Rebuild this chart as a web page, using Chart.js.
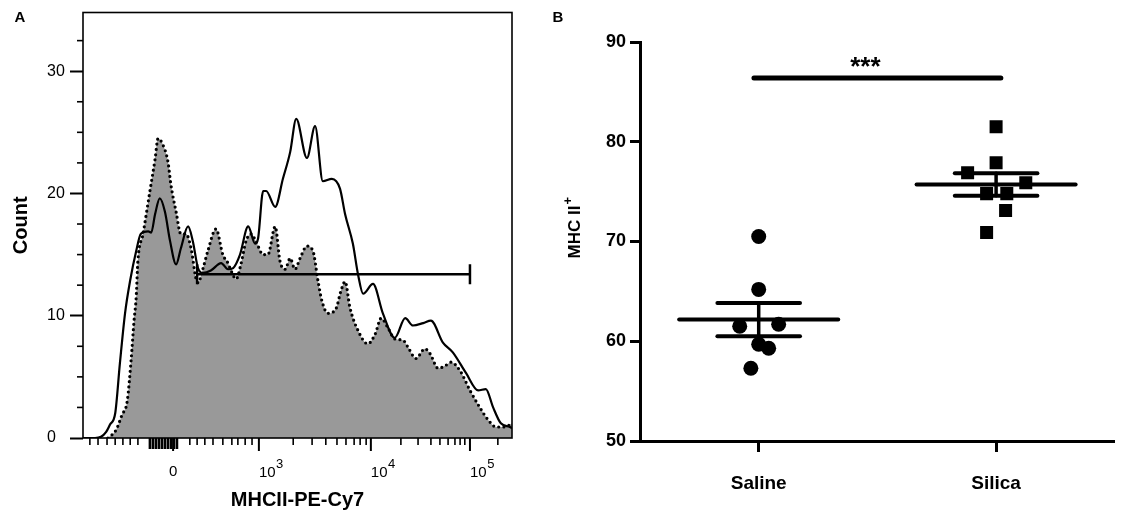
<!DOCTYPE html>
<html><head><meta charset="utf-8">
<script src="https://cdn.jsdelivr.net/npm/chart.js@4.4.1/dist/chart.umd.min.js"></script>
<style>
html,body{margin:0;padding:0;background:#fff;width:1124px;height:510px;overflow:hidden}
#ca{position:absolute;left:0;top:0}
#cb{position:absolute;left:540px;top:0}
</style></head><body>
<canvas id="ca" width="540" height="510"></canvas>
<canvas id="cb" width="584" height="510"></canvas>
<script>
// ================= Panel A : histogram on a biexponential display axis (channel units 0..1000)
const A_X_TICK_VALUES = [210, 410, 671, 902];
const A_X_TICK_LABELS = ['0', '10^3', '10^4', '10^5'];
const A_X_MINOR_TICKS = [16, 35, 56, 75, 93, 110, 128, 249, 266, 284, 303, 326, 347, 361, 378, 394,
  490, 534, 566, 592, 613, 632, 646, 660, 741, 781, 811, 832, 851, 867, 879, 890, 967];
const A_X_ZERO_TICKS = [156, 163, 170, 177, 184, 191, 198, 205, 212, 219];
const A_Y_TICKS = [0, 10, 20, 30];
const A_Y_MINOR_TICKS = [2.5, 5, 7.5, 12.5, 15, 17.5, 22.5, 25, 27.5, 32.5];
const A_X_TITLE = 'MHCII-PE-Cy7';
const A_Y_TITLE = 'Count';

// solid (unfilled) histogram
const SOLID_X = [0,28,42,54,63,75,86,98,110,124,135,152,159,168,179,191,203,217,228,245,
  256,268,280,298,322,338,350,366,385,401,408,420,427,448,466,483,497,522,541,559,
  580,599,611,629,641,653,676,699,727,751,769,793,811,839,862,893,921,939,956,974,995,1000];
const SOLID_Y = [0,0,0.1,0.5,1.1,2.0,6.1,10.2,12.9,15.3,16.7,16.9,16.8,18.3,19.6,18.5,16.1,14.2,15.5,17.3,
  16.1,13.9,13.5,13.7,14.3,13.8,13.9,15.0,17.3,15.9,16.3,20.2,20.2,18.9,21.2,23.4,26.1,22.9,25.5,21.0,
  21.2,20.4,18.3,15.9,13.4,11.8,12.6,10.2,8.2,9.8,9.2,9.4,9.6,7.8,7.0,5.3,3.9,4.0,2.5,1.2,0.9,0.8];
// dotted, grey-filled histogram
const DOTTED_X = [58,77,91,103,112,119,124,128,140,156,168,175,186,198,205,217,228,240,252,263,
  268,280,291,310,326,338,345,357,368,380,392,403,420,431,448,459,471,483,494,506,
  522,536,548,557,571,590,601,611,622,641,664,681,695,711,727,746,758,776,797,809,
  828,844,858,879,902,925,944,963,984,1000];
const DOTTED_Y = [0,0.65,1.9,3.0,6.3,9.6,11.5,14.5,16.7,20.2,22.8,24.5,24.0,22.6,20.7,18.5,16.7,16.7,15.5,13.1,
  12.7,13.9,15.3,17.1,15.0,14.3,13.7,13.0,14.2,16.1,16.7,16.1,15.0,15.0,17.3,14.5,13.8,14.7,13.8,14.7,
  15.7,15.3,12.8,11.2,10.2,10.6,12.0,12.8,10.7,8.8,7.7,8.5,9.8,9.0,8.1,8.0,7.4,6.5,7.3,6.9,
  5.7,5.9,6.2,5.5,3.9,2.5,1.5,0.9,0.9,1.2];
// gate
const GATE_X = [266, 902];
const GATE_Y = 13.4;

// ================= Panel B : scatter with mean ± SEM
const GROUPS = ['Saline', 'Silica'];
const SALINE = [70.5, 65.2, 61.5, 61.7, 59.7, 59.3, 57.3];
const SALINE_JITTER = [0, 0, -0.08, 0.084, 0, 0.042, -0.033];
const SILICA = [81.5, 77.9, 76.9, 75.9, 74.8, 74.8, 73.1, 70.9];
const SILICA_JITTER = [0, 0, -0.12, 0.125, -0.04, 0.045, 0.04, -0.04];
const B_Y_TICKS = [50, 60, 70, 80, 90];
const SIG_X = [0.48, 1.52];
const SIG_Y = 86.4;
const SIG_LABEL = '***';
const B_Y_TITLE = 'MHC II';
const B_Y_TITLE_SUP = '+';

const FONT = "'Liberation Sans', Arial, Helvetica, sans-serif";
Chart.defaults.font.family = FONT;
Chart.defaults.color = '#000';

const zip = (xs, ys) => xs.map((x, i) => ({x, y: ys[i]}));

function hline(ctx, x1, y1, x2, y2, w) {
  ctx.lineWidth = w; ctx.beginPath(); ctx.moveTo(x1, y1); ctx.lineTo(x2, y2); ctx.stroke();
}
function noPad(s) { s.paddingTop = 0; s.paddingBottom = 0; s.paddingLeft = 0; s.paddingRight = 0; }

const panelA = {
  id: 'panelA',
  afterDraw(chart) {
    const {ctx, chartArea: ca, scales: {x, y}} = chart;
    ctx.save();
    ctx.strokeStyle = '#000'; ctx.fillStyle = '#000';
    ctx.lineWidth = 1.6;
    ctx.strokeRect(ca.left, ca.top, ca.right - ca.left, ca.bottom - ca.top);
    A_Y_MINOR_TICKS.forEach(v => { const py = y.getPixelForValue(v); hline(ctx, ca.left - 6, py, ca.left, py, 1.6); });
    A_X_MINOR_TICKS.forEach(v => { const px = x.getPixelForValue(v); hline(ctx, px, ca.bottom, px, ca.bottom + 7, 1.6); });
    A_X_ZERO_TICKS.forEach(v => { const px = x.getPixelForValue(v); hline(ctx, px, ca.bottom, px, ca.bottom + 11, 2.6); });
    A_X_TICK_VALUES.forEach(v => { const px = x.getPixelForValue(v); hline(ctx, px, ca.bottom, px, ca.bottom + 13, 2); });
    // tick labels
    ctx.textBaseline = 'middle';
    A_X_TICK_VALUES.forEach((v, i) => {
      const px = x.getPixelForValue(v);
      const parts = A_X_TICK_LABELS[i].split('^');
      if (parts.length === 1) {
        ctx.font = '15px ' + FONT; ctx.textAlign = 'center';
        ctx.fillText(parts[0], px, ca.bottom + 34);
      } else {
        ctx.font = '15px ' + FONT; ctx.textAlign = 'left';
        ctx.fillText(parts[0], px, ca.bottom + 35);
        const w = ctx.measureText(parts[0]).width;
        ctx.font = '13px ' + FONT;
        ctx.fillText(parts[1], px + w + 0.5, ca.bottom + 26);
      }
    });
    // y title
    ctx.save();
    ctx.translate(21, (ca.top + ca.bottom) / 2);
    ctx.rotate(-Math.PI / 2);
    ctx.font = 'bold 20px ' + FONT; ctx.textAlign = 'center';
    ctx.fillText(A_Y_TITLE, 0, 0);
    ctx.restore();
    // panel letter
    ctx.font = 'bold 15px ' + FONT; ctx.textAlign = 'center';
    ctx.fillText('A', 20, 18);
    ctx.restore();
  }
};

new Chart(document.getElementById('ca'), {
  type: 'line',
  data: {
    datasets: [
      { label: 'gate', data: GATE_X.map(v => ({x: v, y: GATE_Y})), borderColor: '#000', borderWidth: 2.5,
        pointStyle: 'line', pointRotation: 90, pointRadius: 10, pointBorderWidth: 2.5,
        pointBorderColor: '#000', pointBackgroundColor: '#000', order: 0 },
      { label: 'Silica', data: zip(SOLID_X, SOLID_Y), borderColor: '#000', borderWidth: 2.2,
        pointRadius: 0, fill: false, cubicInterpolationMode: 'monotone', order: 1 },
      { label: 'Saline', data: zip(DOTTED_X, DOTTED_Y), borderColor: '#000', borderWidth: 3.2,
        borderDash: [0, 5.2], borderCapStyle: 'round', backgroundColor: '#999999', fill: 'origin',
        pointRadius: 0, cubicInterpolationMode: 'monotone', order: 2 }
    ]
  },
  options: {
    responsive: false, animation: false,
    layout: { padding: { left: 47, top: 10, right: 28, bottom: 0 } },
    plugins: { legend: { display: false }, tooltip: { enabled: false } },
    scales: {
      x: { type: 'linear', min: 0, max: 1000,
        grid: { display: false }, border: { display: false }, ticks: { display: false },
        title: { display: true, text: A_X_TITLE, font: { size: 20, weight: 'bold' }, padding: { top: 0, bottom: -2 } },
        afterFit(s) { s.height = 72; noPad(s); } },
      y: { type: 'linear', min: 0, max: 34.8,
        afterBuildTicks(s) { s.ticks = A_Y_TICKS.map(v => ({value: v})); },
        ticks: { crossAlign: 'far', padding: 4, font: { size: 16 }, color: '#000', callback: v => String(v) },
        grid: { drawOnChartArea: false, drawTicks: true, tickLength: 13, tickWidth: 2, tickColor: '#000' },
        border: { display: false },
        afterFit(s) { s.width = 36; noPad(s); } }
    }
  },
  plugins: [panelA]
});

// ---------------- Panel B
function stats(a) {
  const n = a.length, m = a.reduce((s, v) => s + v, 0) / n;
  const sd = Math.sqrt(a.reduce((s, v) => s + (v - m) * (v - m), 0) / (n - 1));
  return { m, sem: sd / Math.sqrt(n) };
}
const B_POS = [0.5, 1.5];
const MEAN_HALF = 0.335, SEM_HALF = 0.174;
const lineDs = (pts, w) => ({ type: 'line', data: pts, borderColor: '#000', borderWidth: w,
  borderCapStyle: 'round', pointRadius: 0, fill: false, order: 1 });
const bDatasets = [lineDs(SIG_X.map(v => ({x: v, y: SIG_Y})), 5)];
[[SALINE, SALINE_JITTER, 'circle', 7.5], [SILICA, SILICA_JITTER, 'rect', 9.2]].forEach(([vals, jit, style, r], g) => {
  const {m, sem} = stats(vals); const c = B_POS[g];
  bDatasets.push(lineDs([{x: c - MEAN_HALF, y: m}, {x: c + MEAN_HALF, y: m}], 4));
  bDatasets.push(lineDs([{x: c - SEM_HALF, y: m + sem}, {x: c + SEM_HALF, y: m + sem}], 4));
  bDatasets.push(lineDs([{x: c - SEM_HALF, y: m - sem}, {x: c + SEM_HALF, y: m - sem}], 4));
  bDatasets.push(lineDs([{x: c, y: m - sem}, {x: c, y: m + sem}], 3.5));
  bDatasets.push({ type: 'scatter', label: GROUPS[g], data: vals.map((v, i) => ({x: c + jit[i], y: v})),
    pointStyle: style, pointRadius: r, pointBackgroundColor: '#000', pointBorderColor: '#000',
    pointBorderWidth: 0, order: 0 });
});

const panelB = {
  id: 'panelB',
  afterDraw(chart) {
    const {ctx, chartArea: ca, scales: {x, y}} = chart;
    ctx.save();
    ctx.fillStyle = '#000';
    ctx.font = 'bold 15px ' + FONT; ctx.textAlign = 'center'; ctx.textBaseline = 'middle';
    ctx.fillText('B', 18, 18);
    // significance stars
    ctx.font = 'bold 26px ' + FONT; ctx.textBaseline = 'alphabetic';
    ctx.fillText(SIG_LABEL, x.getPixelForValue((SIG_X[0] + SIG_X[1]) / 2) - 12, y.getPixelForValue(SIG_Y) - 3);
    // y title with superscript
    ctx.save();
    ctx.translate(35, 232);
    ctx.rotate(-Math.PI / 2);
    ctx.font = 'bold 17px ' + FONT; ctx.textAlign = 'center'; ctx.textBaseline = 'middle';
    ctx.fillText(B_Y_TITLE, 0, 0);
    const w = ctx.measureText(B_Y_TITLE).width;
    ctx.font = 'bold 13px ' + FONT; ctx.textAlign = 'left';
    ctx.fillText(B_Y_TITLE_SUP, w / 2 + 1, -7);
    ctx.restore();
    ctx.restore();
  }
};

new Chart(document.getElementById('cb'), {
  type: 'scatter',
  data: { datasets: bDatasets },
  options: {
    responsive: false, animation: false,
    layout: { padding: { left: 0, top: 42, right: 6, bottom: 0 } },
    plugins: { legend: { display: false }, tooltip: { enabled: false } },
    scales: {
      x: { type: 'linear', min: 0, max: 2,
        afterBuildTicks(s) { s.ticks = B_POS.map(v => ({value: v})); },
        ticks: { callback: (v, i) => GROUPS[i], font: { size: 19, weight: 'bold' }, padding: 20, color: '#000', maxRotation: 0 },
        grid: { drawOnChartArea: false, drawTicks: true, tickLength: 11, tickWidth: 3, tickColor: '#000' },
        border: { display: true, width: 3, color: '#000' },
        afterFit(s) { s.height = 69; noPad(s); } },
      y: { type: 'linear', min: 50, max: 90,
        afterBuildTicks(s) { s.ticks = B_Y_TICKS.map(v => ({value: v})); },
        ticks: { font: { size: 18, weight: 'bold' }, padding: 4, color: '#000' },
        grid: { drawOnChartArea: false, drawTicks: true, tickLength: 10, tickWidth: 3, tickColor: '#000' },
        border: { display: true, width: 3, color: '#000' },
        afterFit(s) { s.width = 100; noPad(s); } }
    }
  },
  plugins: [panelB]
});
</script>
</body></html>
